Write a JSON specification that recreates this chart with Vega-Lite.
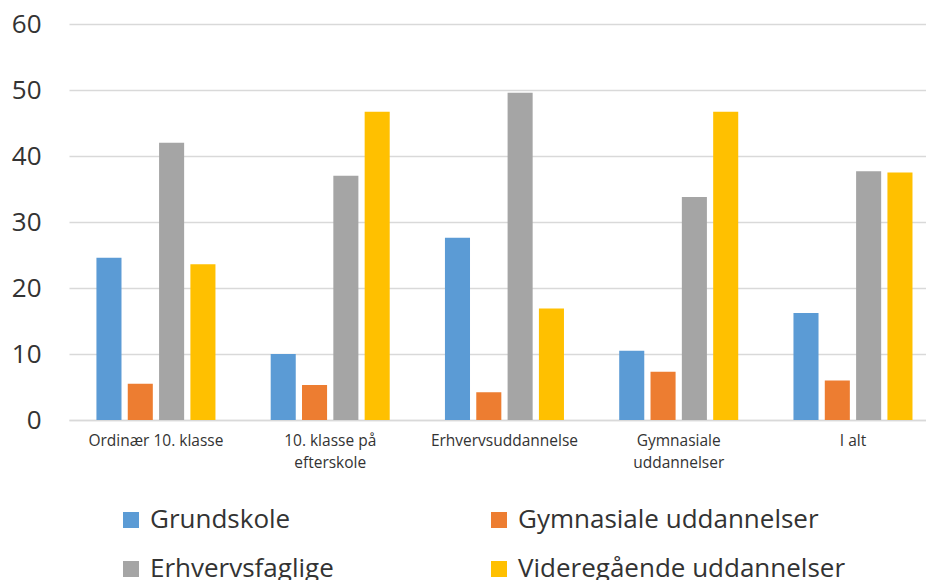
{
  "$schema": "https://vega.github.io/schema/vega-lite/v6.json",
  "width": 857,
  "height": 396,
  "autosize": {"type": "none"},
  "padding": {"left": 69, "top": 24, "right": 0, "bottom": 160},
  "background": "white",
  "data": {
    "values": [
      {"kategori": "Ordinær 10. klasse", "serie": "Grundskole", "v": 24.6},
      {"kategori": "Ordinær 10. klasse", "serie": "Gymnasiale uddannelser", "v": 5.5},
      {"kategori": "Ordinær 10. klasse", "serie": "Erhvervsfaglige", "v": 42.0},
      {"kategori": "Ordinær 10. klasse", "serie": "Videregående uddannelser", "v": 23.6},
      {"kategori": "10. klasse på efterskole", "serie": "Grundskole", "v": 10.0},
      {"kategori": "10. klasse på efterskole", "serie": "Gymnasiale uddannelser", "v": 5.3},
      {"kategori": "10. klasse på efterskole", "serie": "Erhvervsfaglige", "v": 37.0},
      {"kategori": "10. klasse på efterskole", "serie": "Videregående uddannelser", "v": 46.7},
      {"kategori": "Erhvervsuddannelse", "serie": "Grundskole", "v": 27.6},
      {"kategori": "Erhvervsuddannelse", "serie": "Gymnasiale uddannelser", "v": 4.2},
      {"kategori": "Erhvervsuddannelse", "serie": "Erhvervsfaglige", "v": 49.6},
      {"kategori": "Erhvervsuddannelse", "serie": "Videregående uddannelser", "v": 16.9},
      {"kategori": "Gymnasiale uddannelser", "serie": "Grundskole", "v": 10.5},
      {"kategori": "Gymnasiale uddannelser", "serie": "Gymnasiale uddannelser", "v": 7.3},
      {"kategori": "Gymnasiale uddannelser", "serie": "Erhvervsfaglige", "v": 33.8},
      {"kategori": "Gymnasiale uddannelser", "serie": "Videregående uddannelser", "v": 46.7},
      {"kategori": "I alt", "serie": "Grundskole", "v": 16.2},
      {"kategori": "I alt", "serie": "Gymnasiale uddannelser", "v": 6.0},
      {"kategori": "I alt", "serie": "Erhvervsfaglige", "v": 37.7},
      {"kategori": "I alt", "serie": "Videregående uddannelser", "v": 37.5}
    ]
  },
  "mark": {"type": "bar"},
  "encoding": {
    "x": {
      "field": "kategori",
      "type": "nominal",
      "sort": null,
      "title": null,
      "scale": {"paddingInner": 0.317, "paddingOuter": 0.1175, "align": 0.67},
      "axis": {
        "labelAngle": 0,
        "ticks": false,
        "domainColor": "#d9d9d9",
        "domainWidth": 1.5,
        "labelFont": "Open Sans",
        "labelFontSize": 15.5,
        "labelColor": "#333333",
        "labelPadding": 13,
        "labelLineHeight": 22,
        "labelBaseline": "top",
        "labelExpr": "datum.label == '10. klasse på efterskole' ? ['10. klasse på', 'efterskole'] : datum.label == 'Gymnasiale uddannelser' ? ['Gymnasiale', 'uddannelser'] : datum.label"
      }
    },
    "xOffset": {
      "field": "serie",
      "type": "nominal",
      "sort": ["Grundskole", "Gymnasiale uddannelser", "Erhvervsfaglige", "Videregående uddannelser"],
      "scale": {"paddingInner": 0.2, "paddingOuter": 0}
    },
    "y": {
      "field": "v",
      "type": "quantitative",
      "title": null,
      "scale": {"domain": [0, 60], "nice": false},
      "axis": {
        "values": [0, 10, 20, 30, 40, 50, 60],
        "domain": false,
        "ticks": false,
        "gridColor": "#d9d9d9",
        "gridWidth": 1.5,
        "labelFont": "Open Sans",
        "labelFontSize": 26,
        "labelColor": "#333333",
        "labelPadding": 28
      }
    },
    "color": {
      "field": "serie",
      "type": "nominal",
      "sort": ["Grundskole", "Gymnasiale uddannelser", "Erhvervsfaglige", "Videregående uddannelser"],
      "scale": {
        "domain": ["Grundskole", "Gymnasiale uddannelser", "Erhvervsfaglige", "Videregående uddannelser"],
        "range": ["#5B9BD5", "#ED7D31", "#A5A5A5", "#FFC000"]
      },
      "legend": {
        "title": null,
        "orient": "none",
        "legendX": 49,
        "legendY": 483,
        "direction": "horizontal",
        "columns": 2,
        "columnPadding": 152,
        "rowPadding": 23,
        "symbolType": "square",
        "symbolSize": 256,
        "symbolStrokeWidth": 0,
        "labelFont": "Open Sans",
        "labelFontSize": 26,
        "labelColor": "#333333",
        "labelOffset": 6,
        "labelLimit": 400
      }
    }
  },
  "config": {"view": {"stroke": null}}
}
